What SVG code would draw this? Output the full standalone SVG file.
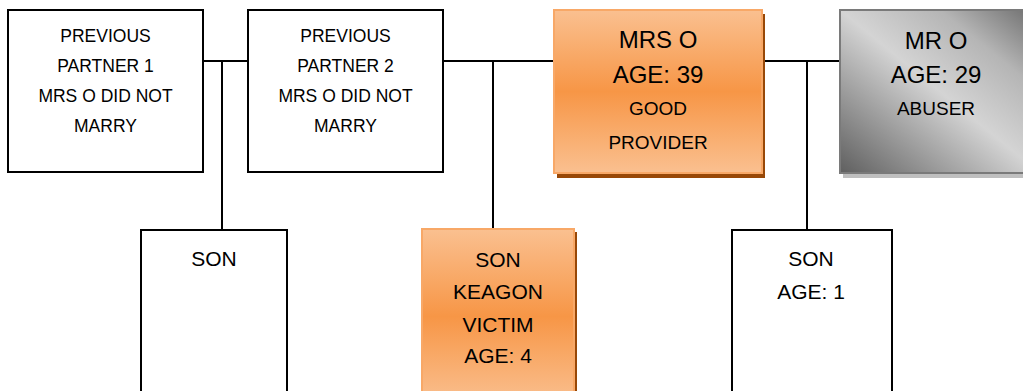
<svg xmlns="http://www.w3.org/2000/svg" width="1023" height="391" viewBox="0 0 1023 391">
<defs>
<style>
.box{fill:#ffffff;stroke:#000000;stroke-width:2}
.line{stroke:#000000;stroke-width:2;fill:none}
text{font-family:"Liberation Sans",Arial,sans-serif;fill:#000000;text-anchor:middle}
.t18{font-size:17.5px}
.t21{font-size:21px}
.t24{font-size:24px}
.t19{font-size:19px}
</style>
<linearGradient id="orange" x1="0" y1="0" x2="0" y2="1">
<stop offset="0" stop-color="#FAC090"/>
<stop offset="0.5" stop-color="#F79646"/>
<stop offset="1" stop-color="#FAC090"/>
</linearGradient>
<linearGradient id="grey" x1="0" y1="1" x2="1" y2="0">
<stop offset="0" stop-color="#5f5f5f"/>
<stop offset="0.5" stop-color="#d4d4d4"/>
<stop offset="0.75" stop-color="#b5b5b5"/>
<stop offset="1" stop-color="#6a6a6a"/>
</linearGradient>
</defs>
<g id="connectors">
<line class="line" x1="203" y1="61" x2="248" y2="61"/>
<line class="line" x1="222" y1="61" x2="222" y2="230"/>
<line class="line" x1="443" y1="61" x2="554" y2="61"/>
<line class="line" x1="493" y1="61" x2="493" y2="229"/>
<line class="line" x1="762" y1="61" x2="840" y2="61"/>
<line class="line" x1="807" y1="61" x2="807" y2="230"/>
</g>
<g id="partner1">
<rect class="box" x="8" y="10" width="195" height="162"/>
<text class="t18" x="105.5" y="42">PREVIOUS</text>
<text class="t18" x="105.5" y="72">PARTNER 1</text>
<text class="t18" x="105.5" y="102">MRS O DID NOT</text>
<text class="t18" x="105.5" y="132">MARRY</text>
</g>
<g id="partner2">
<rect class="box" x="248" y="10" width="195" height="162"/>
<text class="t18" x="345.5" y="42">PREVIOUS</text>
<text class="t18" x="345.5" y="72">PARTNER 2</text>
<text class="t18" x="345.5" y="102">MRS O DID NOT</text>
<text class="t18" x="345.5" y="132">MARRY</text>
</g>
<g id="mrs-o">
<rect x="557" y="14" width="208" height="164" fill="#984807"/>
<rect x="554" y="10" width="208" height="163" fill="url(#orange)" stroke="#F8A867" stroke-width="2"/>
<text class="t24" x="658" y="48">MRS O</text>
<text class="t24" x="658" y="83">AGE: 39</text>
<text class="t19" x="658" y="115">GOOD</text>
<text class="t19" x="658" y="149">PROVIDER</text>
</g>
<g id="mr-o">
<rect x="843" y="14" width="200" height="164" fill="#bfbfbf"/>
<rect x="840" y="10" width="200" height="163" fill="url(#grey)" stroke="#7a7a7a" stroke-width="2"/>
<text class="t24" x="936" y="49">MR O</text>
<text class="t24" x="936" y="83">AGE: 29</text>
<text class="t19" x="936" y="115">ABUSER</text>
</g>
<g id="son1">
<rect class="box" x="141" y="230" width="146" height="175"/>
<text class="t21" x="214" y="266">SON</text>
</g>
<g id="son-keagon">
<rect x="425" y="232" width="152" height="175" fill="#984807"/>
<rect x="422" y="229" width="152" height="175" fill="url(#orange)" stroke="#F8A867" stroke-width="2"/>
<text class="t21" x="498" y="267">SON</text>
<text class="t21" x="498" y="299">KEAGON</text>
<text class="t21" x="498" y="332">VICTIM</text>
<text class="t21" x="498" y="363">AGE: 4</text>
</g>
<g id="son-age1">
<rect class="box" x="732" y="230" width="160" height="175"/>
<text class="t21" x="811" y="266">SON</text>
<text class="t21" x="811" y="299">AGE: 1</text>
</g>
</svg>
